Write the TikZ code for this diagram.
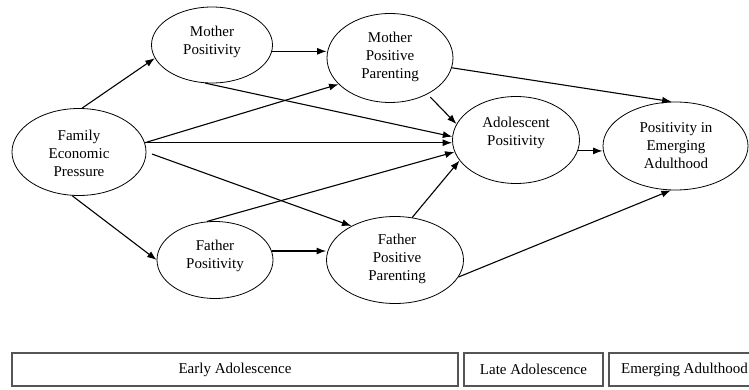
\documentclass[tikz,border=0pt]{standalone}
\usepackage{fontspec}
\setmainfont{Liberation Serif}
\usetikzlibrary{shapes.geometric,arrows.meta,calc}
\begin{document}
\begin{tikzpicture}[x=1pt,y=-1pt,
  ell/.style={ellipse,draw,line width=0.8pt,inner sep=0pt},
  lbl/.style={align=center,inner sep=0pt,font=\fontsize{15}{18}\selectfont},
  arr/.style={-{Latex[length=9.5pt,width=7pt]},line width=1.1pt},
  stagebox/.style={draw={rgb,255:red,85;green,85;blue,85},line width=1.4pt,inner sep=0pt,font=\fontsize{15}{18}\selectfont}]
\clip (0,0) rectangle (749,390);
% ellipses
\node[ell,minimum width=134pt,minimum height=87pt] (fep) at (79,152) {};
\node[lbl] (fept) at (79,153) {Family\\Economic\\Pressure};
\node[ell,minimum width=121pt,minimum height=76pt] (mp) at (212,45) {};
\node[lbl] (mpt) at (212,42) {Mother\\Positivity};
\node[ell,minimum width=126pt,minimum height=89pt] (mpp) at (390,58) {};
\node[lbl] (mppt) at (390,57) {Mother\\Positive\\Parenting};
\node[ell,minimum width=127pt,minimum height=87pt] (ap) at (516,140) {};
\node[lbl] (apt) at (516,133) {Adolescent\\Positivity};
\node[ell,minimum width=145pt,minimum height=88pt] (pea) at (675.5,146) {};
\node[lbl] (peat) at (676,146) {Positivity in\\Emerging\\Adulthood};
\node[ell,minimum width=116pt,minimum height=77pt] (fp) at (215,260) {};
\node[lbl] (fpt) at (215,256) {Father\\Positivity};
\node[ell,minimum width=137pt,minimum height=87pt] (fpp) at (395,260) {};
\node[lbl] (fppt) at (397,259) {Father\\Positive\\Parenting};
% connectors
\draw[arr] (fep.86) -- (mp.193);
\draw[arr] (fep.261) -- (fp.180);
\draw[arr] (mp.-6) -- (mp.-6 -| mpp.west);
\draw[arr] (fp.9) -- (fp.9 -| fpp.west);
\draw[arr] (fep.8) -- (mpp.207);
\draw[arr] (fep.8) -- (fep.8 -| ap.west);
\draw[arr,shorten <=6pt] (fep.0) -- (fpp.142);
\draw[arr] (mp.260) -- (ap.177);
\draw[arr] (fp.102) -- (ap.191);
\draw[arr,shorten <=4pt] (mpp.-44) -- (ap.165);
\draw[arr] (fpp.68) -- (ap.200);
\draw[arr] (mpp.-9) -- (pea.95);
\draw[arr] (ap.-10) -- (ap.-10 -| pea.west);
\draw[arr] (fpp.-15) -- (pea.264);
% stage boxes
\node[stagebox,minimum width=446pt,minimum height=33pt] (early) at (235,369.5) {Early Adolescence};
\node[stagebox,minimum width=139pt,minimum height=33pt] (late) at (533.5,369.5) {Late Adolescence};
\node[stagebox,minimum width=151pt,minimum height=33pt] (emerg) at (684.5,369.5) {Emerging Adulthood};
\end{tikzpicture}
\end{document}
